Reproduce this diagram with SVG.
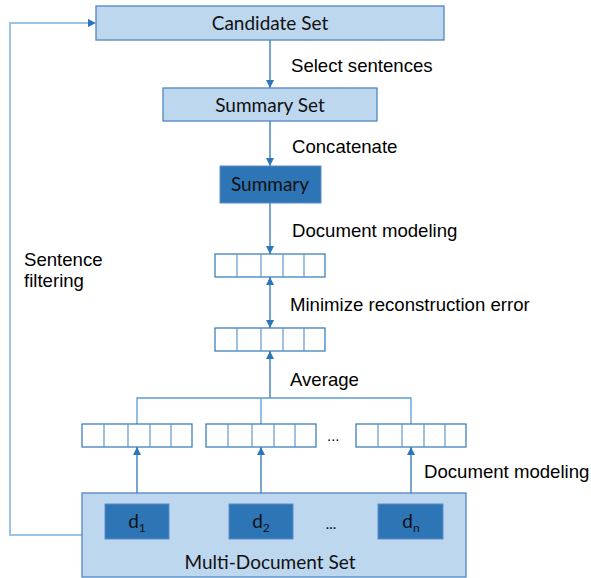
<svg xmlns="http://www.w3.org/2000/svg" width="591" height="578" viewBox="0 0 591 578">
<style>
.lbox{fill:#BDD7EE;stroke:#4F86C0;stroke-width:1.3}
.dbox{fill:#2E75B6;stroke:#5B8EC6;stroke-width:1}
.btxt{font-family:Lato,"Open Sans",sans-serif;font-size:19px;fill:#111;text-anchor:middle}
.etxt{font-family:"Liberation Sans",Arial,sans-serif;font-size:18.6px;fill:#000}
.vec rect{fill:#fff;stroke:#2E75B6;stroke-width:1.2}
.vec line{stroke:#5F97CF;stroke-width:1.2}
.con{stroke:#2E75B6;stroke-width:1.3;fill:none}
.loop{stroke:#9DC3E6;stroke-width:2;fill:none}
</style>
<defs>
<marker id="ah" viewBox="0 0 8 8" refX="8" refY="4" markerWidth="8" markerHeight="8" markerUnits="userSpaceOnUse" orient="auto-start-reverse">
<path d="M0,0 L8,4 L0,8 z" fill="#2E75B6"/>
</marker>
<g id="vecshape" class="vec">
<rect x="0" y="0" width="110" height="23"/>
<line x1="22" y1="0" x2="22" y2="23"/><line x1="46" y1="0" x2="46" y2="23"/><line x1="68" y1="0" x2="68" y2="23"/><line x1="89" y1="0" x2="89" y2="23"/>
</g>
</defs>

<g id="connectors">
<path class="loop" d="M82,535 H10 V23 H90"/>
<path d="M88,19 L96,23 L88,27 z" fill="#2E75B6"/>
<line class="con" x1="270" y1="40" x2="270" y2="88" marker-end="url(#ah)"/>
<line class="con" x1="270" y1="121" x2="270" y2="166" marker-end="url(#ah)"/>
<line class="con" x1="270" y1="203" x2="270" y2="254" marker-end="url(#ah)"/>
<line class="con" x1="270" y1="277" x2="270" y2="328" marker-start="url(#ah)" marker-end="url(#ah)"/>
<line class="con" x1="270" y1="398" x2="270" y2="351" marker-end="url(#ah)"/>
<path class="con" style="stroke:#5B9BD5" d="M137,424 V398 H411 V424 M261,398 V424"/>
<line class="con" x1="137" y1="504" x2="137" y2="447" marker-end="url(#ah)"/>
<line class="con" x1="261" y1="504" x2="261" y2="447" marker-end="url(#ah)"/>
<line class="con" x1="411" y1="504" x2="411" y2="447" marker-end="url(#ah)"/>
</g>

<g id="candidate-set">
<rect class="lbox" x="96" y="6" width="348" height="34"/>
<text class="btxt" x="270" y="30">Candidate Set</text>
</g>
<g id="summary-set">
<rect class="lbox" x="163" y="88" width="214" height="33"/>
<text class="btxt" x="270" y="112">Summary Set</text>
</g>
<g id="summary">
<rect class="dbox" x="220" y="166" width="101" height="37"/>
<text class="btxt" x="270" y="191">Summary</text>
</g>
<g id="vec-summary"><use href="#vecshape" x="215" y="254"/></g>
<g id="vec-average"><use href="#vecshape" x="215" y="328"/></g>
<g id="vec-d1"><use href="#vecshape" x="82" y="424"/></g>
<g id="vec-d2"><use href="#vecshape" x="206" y="424"/></g>
<g id="vec-dn"><use href="#vecshape" x="356" y="424"/></g>
<text class="etxt" x="327" y="441" style="font-size:15px">...</text>

<g id="multi-document-set">
<rect class="lbox" x="82" y="493" width="384" height="84"/>
<text class="btxt" x="270" y="569">Multi-Document Set</text>
<text class="btxt" x="331" y="529" style="font-size:15px">...</text>
</g>
<g id="d1">
<rect class="dbox" x="105" y="504" width="64" height="35"/>
<text class="btxt" x="137" y="528">d<tspan font-size="12" dy="4">1</tspan></text>
</g>
<g id="d2">
<rect class="dbox" x="229" y="504" width="64" height="35"/>
<text class="btxt" x="261" y="528">d<tspan font-size="12" dy="4">2</tspan></text>
</g>
<g id="dn">
<rect class="dbox" x="378" y="504" width="65" height="35"/>
<text class="btxt" x="411" y="528">d<tspan font-size="12" dy="4">n</tspan></text>
</g>

<g id="labels">
<text class="etxt" x="291" y="72">Select sentences</text>
<text class="etxt" x="292" y="153">Concatenate</text>
<text class="etxt" x="292" y="237">Document modeling</text>
<text class="etxt" x="290" y="311">Minimize reconstruction error</text>
<text class="etxt" x="290" y="386">Average</text>
<text class="etxt" x="424" y="478">Document modeling</text>
<text class="etxt" x="24" y="266">Sentence</text>
<text class="etxt" x="24" y="287">filtering</text>
</g>
</svg>
